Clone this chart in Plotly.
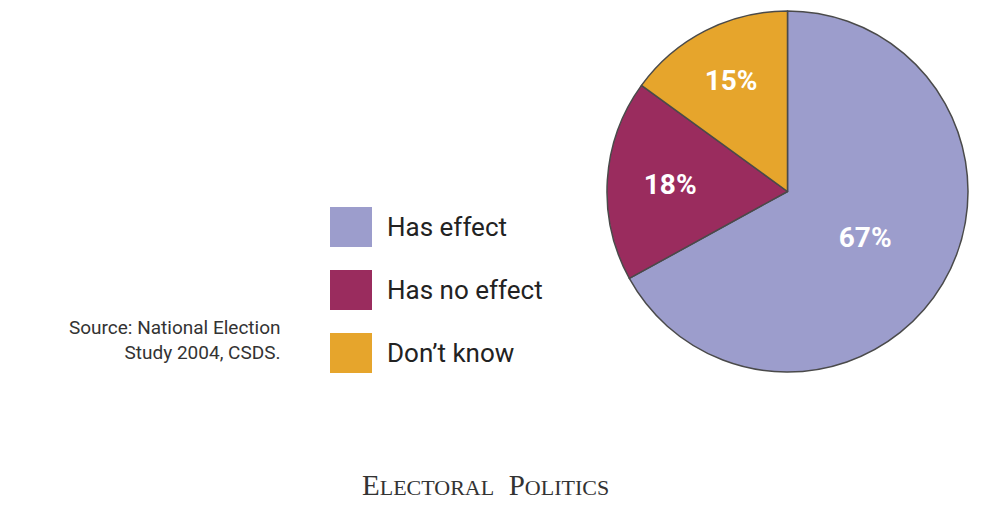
import plotly.graph_objects as go

labels = ["Has effect", "Has no effect", "Don't know"]
values = [67, 18, 15]
colors = ["#9c9dcc", "#9a2c5e", "#e6a52c"]

W, H = 1000, 527
off = 8  # page renders shifted by the body margin

fig = go.Figure()
fig.add_trace(go.Pie(
    labels=labels, values=values, sort=False, direction="clockwise", rotation=0,
    marker=dict(colors=colors, line=dict(color="#4a4a4a", width=1.5)),
    texttemplate="%{percent:.0%}", textposition="inside", insidetextorientation="horizontal",
    textfont=dict(family="Roboto", size=28, color="white", weight="bold"),
    domain=dict(x=[(607 - off) / W, (968 - off) / W], y=[1 - (373 - off) / H, 1 - (10 - off) / H]),
    showlegend=False, hoverinfo="label+percent",
))

# hand-drawn legend boxes
box_tops = [207, 270, 333]
for lab, col, top in zip(labels, colors, box_tops):
    t = top - off
    fig.add_shape(type="rect", xref="paper", yref="paper",
                  x0=(330 - off) / W, x1=(372 - off) / W, y0=1 - (t + 40) / H, y1=1 - t / H,
                  fillcolor=col, line=dict(width=0))
    fig.add_annotation(xref="paper", yref="paper", x=(385 - off) / W, y=1 - (t + 20) / H,
                       text=lab.replace("'", "’"), showarrow=False, xanchor="left", yanchor="middle",
                       font=dict(family="Roboto", size=26, color="#222222"))

fig.add_annotation(xref="paper", yref="paper", x=(283 - off) / W, y=1 - (340 - off) / H,
                   text="Source: National Election<br>Study 2004, CSDS.", align="right",
                   showarrow=False, xanchor="right", yanchor="middle",
                   font=dict(family="Roboto", size=19, color="#333333"))

fig.add_annotation(xref="paper", yref="paper", x=(485 - off) / W, y=1 - (485 - off) / H,
                   text="E<span style='font-size:22px'>LECTORAL</span>  P<span style='font-size:22px'>OLITICS</span>",
                   showarrow=False, xanchor="center", yanchor="middle",
                   font=dict(family="Liberation Serif", size=29, color="#333333"))

fig.update_layout(width=W, height=H, margin=dict(l=0, r=0, t=0, b=0),
                  paper_bgcolor="white", plot_bgcolor="white")
fig.write_html("out.html")
